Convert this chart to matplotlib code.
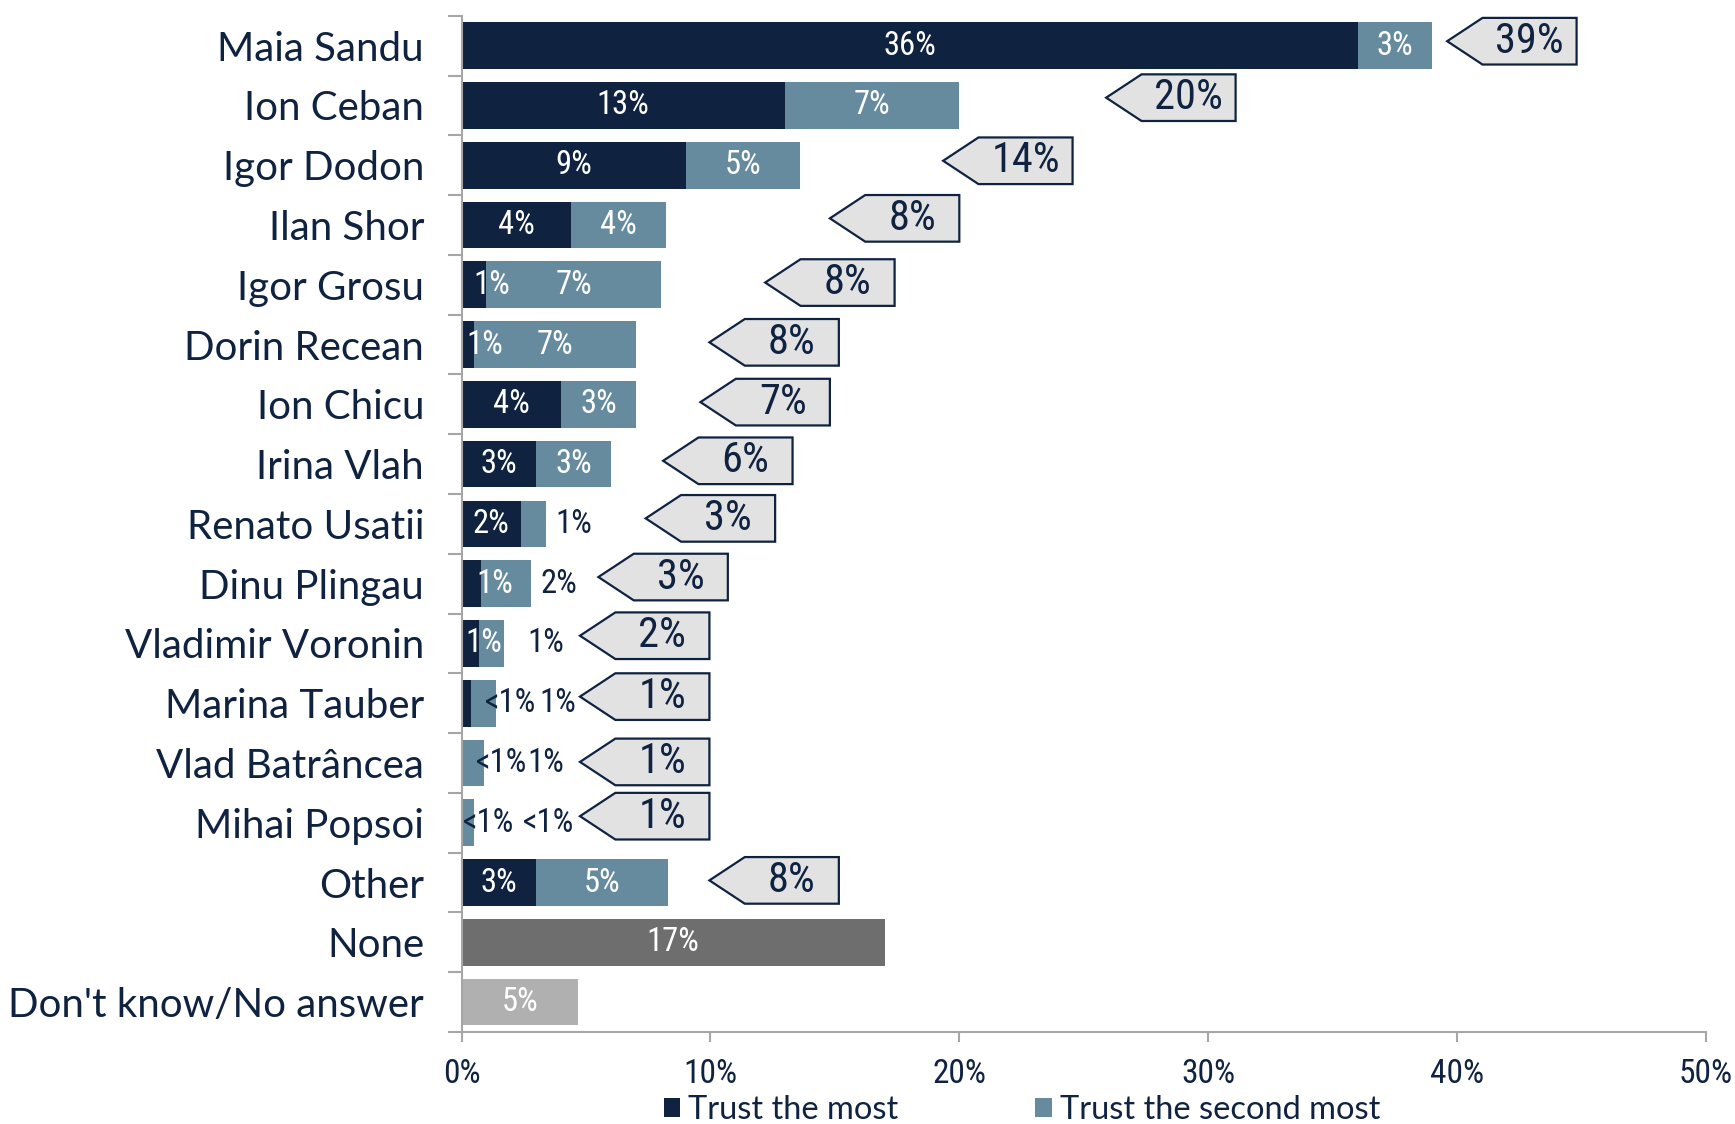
import matplotlib
matplotlib.use("Agg")
import matplotlib.pyplot as plt
from matplotlib import font_manager
from matplotlib.patches import Polygon, Patch
import numpy as np

# ---------------- data ----------------
categories = ["Maia Sandu", "Ion Ceban", "Igor Dodon", "Ilan Shor", "Igor Grosu",
              "Dorin Recean", "Ion Chicu", "Irina Vlah", "Renato Usatii",
              "Dinu Plingau", "Vladimir Voronin", "Marina Tauber",
              "Vlad Batrâncea", "Mihai Popsoi", "Other", "None",
              "Don't know/No answer"]
trust_most = [36, 13, 9.0, 4.4, 1.0, 0.5, 4.0, 3.0, 2.4, 0.8, 0.7, 0.4, 0.05, 0.05, 3.0]
trust_second = [3, 7, 4.6, 3.8, 7.0, 6.5, 3.0, 3.0, 1.0, 2.0, 1.0, 1.0, 0.85, 0.45, 5.3]
none_dk = [17, 4.7]
most_labels = ["36%", "13%", "9%", "4%", "1%", "1%", "4%", "3%", "2%", "1%", "1%",
               "<1%", "<1%", "<1%", "3%"]
second_labels = ["3%", "7%", "5%", "4%", "7%", "7%", "3%", "3%", "1%", "2%", "1%",
                 "1%", "1%", "<1%", "5%"]
total_labels = ["39%", "20%", "14%", "8%", "8%", "8%", "7%", "6%", "3%", "3%", "2%",
                "1%", "1%", "1%", "8%"]
none_dk_labels = ["17%", "5%"]
xticks = [0, 10, 20, 30, 40, 50]
xtick_labels = ["0%", "10%", "20%", "30%", "40%", "50%"]
legend_labels = ["Trust the most", "Trust the second most"]

# ---------------- layout (label placement as in the original) ----------------
most_label_x = {4: 1.2, 5: 0.93, 9: 1.33, 10: 0.9, 11: 1.95, 12: 1.6, 13: 1.07}
most_label_dark = {11, 12, 13}
second_label_x = {8: 4.5, 9: 3.9, 10: 3.4, 11: 3.85, 12: 3.4, 13: 3.5}
callout_tip = [39.6, 25.9, 19.35, 14.8, 12.2, 9.96, 9.6, 8.1, 7.4, 5.5, 4.76, 4.76,
               4.76, 4.76, 9.96]
callout_dy = [-4, -7, -4, -6, -2, -2, -2, -3, -5, -6, -7, -6, -1, -6, -2]
CALLOUT_W = 5.2
CALLOUT_NOTCH = 1.42
ROW_PX = 54.06

NAVY = "#0f2341"
STEEL = "#668a9e"
NONE_C = "#6e6e6e"
DK_C = "#b0b0b0"
GRID_C = "#a6a6a6"
BOX_C = "#e2e2e2"


def pick(*names):
    avail = {f.name for f in font_manager.fontManager.ttflist}
    for n in names:
        if n in avail:
            return n
    return "DejaVu Sans"


LAB_FONT = pick("Lato", "Liberation Sans", "DejaVu Sans")
NUM_FONT = pick("Roboto Condensed", "Liberation Sans Narrow", "Lato", "DejaVu Sans")

plt.rcParams["font.family"] = [LAB_FONT, "DejaVu Sans"]

fig = plt.figure(figsize=(17.35, 11.24), dpi=100)
ax = fig.add_axes([0.266, 0.0818, 0.9833 - 0.266, 0.986 - 0.0818])

n = len(categories)
y = np.arange(n)
h = 0.78
k = len(trust_most)

ax.barh(y[:k], trust_most, height=h, color=NAVY, label=legend_labels[0], zorder=2)
ax.barh(y[:k], trust_second, left=trust_most, height=h, color=STEEL,
        label=legend_labels[1], zorder=2)
ax.barh(y[k:], none_dk, height=h, color=[NONE_C, DK_C], zorder=2)

fs_bar = 23.5
for i in range(k):
    m, s = trust_most[i], trust_second[i]
    xm = most_label_x.get(i, m / 2)
    cm = NAVY if i in most_label_dark else "white"
    ax.text(xm, y[i], most_labels[i], ha="center", va="center", color=cm,
            fontsize=fs_bar, family=[NUM_FONT, "DejaVu Sans"], zorder=4)
    xs = second_label_x.get(i, m + s / 2)
    cs = NAVY if i in second_label_x else "white"
    ax.text(xs, y[i], second_labels[i], ha="center", va="center", color=cs,
            fontsize=fs_bar, family=[NUM_FONT, "DejaVu Sans"], zorder=4)

    # callout (arrow box pointing left)
    tip = callout_tip[i]
    yc = y[i] + callout_dy[i] / ROW_PX
    hh = h / 2
    pts = [(tip, yc), (tip + CALLOUT_NOTCH, yc - hh), (tip + CALLOUT_W, yc - hh),
           (tip + CALLOUT_W, yc + hh), (tip + CALLOUT_NOTCH, yc + hh)]
    ax.add_patch(Polygon(pts, closed=True, facecolor=BOX_C, edgecolor=NAVY,
                         linewidth=1.6, zorder=3, clip_on=False))
    ax.text(tip + CALLOUT_NOTCH + (CALLOUT_W - CALLOUT_NOTCH) / 2, yc,
            total_labels[i], ha="center", va="center", color=NAVY,
            fontsize=30.5, family=[NUM_FONT, "DejaVu Sans"], zorder=4)

for j, v in enumerate(none_dk):
    ax.text(v / 2, y[k + j], none_dk_labels[j], ha="center", va="center",
            color="white", fontsize=fs_bar, family=[NUM_FONT, "DejaVu Sans"], zorder=4)

ax.set_xlim(0, 50)
ax.set_ylim(n - 0.5, -0.5)
ax.set_xticks(xticks)
ax.set_xticklabels(xtick_labels, family=[NUM_FONT, "DejaVu Sans"])
ax.set_yticks(y)
ax.set_yticklabels(categories)
ax.set_yticks(np.arange(n + 1) - 0.5, minor=True)

ax.tick_params(axis="y", which="major", length=0, pad=27, labelsize=29,
               labelcolor=NAVY)
ax.tick_params(axis="y", which="minor", length=10, width=1.5, color=GRID_C,
               direction="out")
ax.tick_params(axis="x", which="major", length=7, width=1.5, color=GRID_C,
               direction="out", pad=12, labelsize=24, labelcolor=NAVY)

for sp in ["top", "right"]:
    ax.spines[sp].set_visible(False)
for sp in ["left", "bottom"]:
    ax.spines[sp].set_color(GRID_C)
    ax.spines[sp].set_linewidth(1.5)

handles = [Patch(facecolor=NAVY), Patch(facecolor=STEEL)]
leg = fig.legend(handles, legend_labels, loc="center", ncol=2,
                 bbox_to_anchor=(0.589, 0.0125), frameon=False, fontsize=23.5,
                 handlelength=0.5, handleheight=0.5, handletextpad=0.25,
                 columnspacing=4.2, borderaxespad=0, borderpad=0)
for t in leg.get_texts():
    t.set_color(NAVY)

fig.savefig("out.png", dpi=100)
